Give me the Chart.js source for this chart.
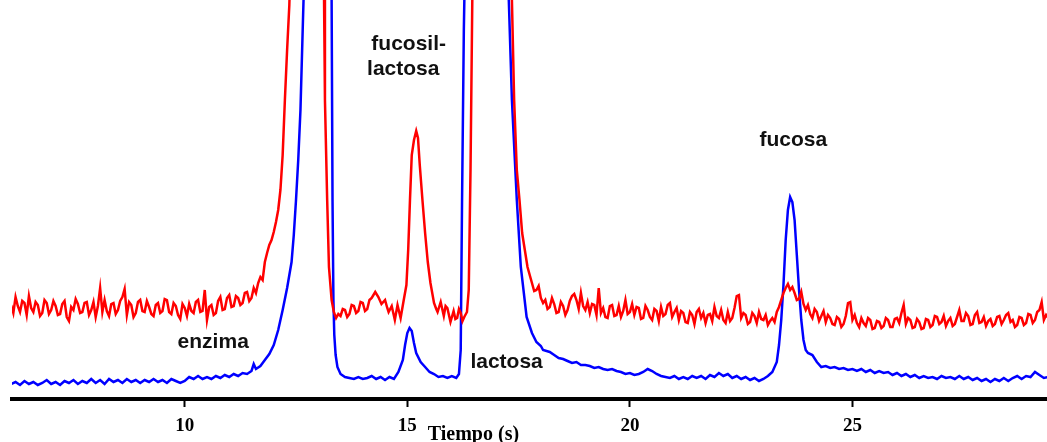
<!DOCTYPE html>
<html>
<head>
<meta charset="utf-8">
<script src="https://cdn.jsdelivr.net/npm/chart.js@4.4.1/dist/chart.umd.min.js"></script>
<style>
  html, body { margin: 0; padding: 0; background: #fff; }
  canvas { display: block; }
</style>
</head>
<body>
<canvas id="chart" width="1047" height="442"></canvas>
<script>
// time (s), detector signal (arbitrary units); big peaks run off the top
const redTrace = [
  [6.1, 96], [6.15, 88], [6.2, 104], [6.25, 95], [6.3, 89], [6.35, 100], [6.4, 98], [6.45, 86], [6.5, 105], [6.55, 93],
  [6.6, 89], [6.65, 99], [6.7, 96], [6.75, 85], [6.8, 88], [6.85, 101], [6.9, 98], [6.95, 87], [7.0, 91], [7.05, 100],
  [7.1, 95], [7.15, 86], [7.2, 87], [7.25, 97], [7.3, 100], [7.35, 84], [7.4, 80], [7.45, 94], [7.5, 91], [7.55, 102],
  [7.6, 97], [7.65, 88], [7.7, 89], [7.75, 98], [7.8, 99], [7.85, 86], [7.9, 91], [7.95, 99], [8.0, 84], [8.05, 95],
  [8.1, 113], [8.15, 89], [8.2, 101], [8.25, 90], [8.3, 85], [8.35, 97], [8.4, 98], [8.45, 87], [8.5, 91], [8.55, 100],
  [8.6, 104], [8.65, 112], [8.7, 86], [8.75, 99], [8.8, 96], [8.85, 84], [8.9, 88], [8.95, 99], [9.0, 101], [9.05, 90],
  [9.1, 89], [9.15, 100], [9.2, 94], [9.25, 87], [9.3, 85], [9.35, 96], [9.4, 98], [9.45, 88], [9.5, 90], [9.55, 102],
  [9.6, 101], [9.65, 89], [9.7, 87], [9.75, 98], [9.8, 95], [9.85, 86], [9.9, 82], [9.95, 97], [10.0, 93], [10.05, 85],
  [10.1, 97], [10.15, 90], [10.2, 88], [10.25, 99], [10.3, 101], [10.35, 89], [10.4, 90], [10.45, 111], [10.5, 81], [10.55, 94],
  [10.6, 96], [10.65, 86], [10.7, 88], [10.75, 100], [10.8, 104], [10.85, 91], [10.9, 92], [10.95, 103], [11.0, 106], [11.05, 94],
  [11.1, 95], [11.15, 105], [11.2, 103], [11.25, 96], [11.3, 98], [11.35, 108], [11.4, 109], [11.45, 100], [11.5, 103], [11.55, 113],
  [11.6, 108], [11.65, 118], [11.7, 124], [11.75, 121], [11.8, 139], [11.85, 148], [11.9, 156], [11.95, 161], [12.0, 169], [12.05, 179],
  [12.1, 191], [12.15, 211], [12.2, 246], [12.25, 301], [12.3, 351], [12.35, 396], [12.4, 480], [12.5, 700], [12.9, 700], [13.08, 600],
  [13.13, 401], [13.15, 301], [13.2, 201], [13.24, 134], [13.3, 101], [13.35, 89], [13.4, 83],
  [13.45, 87], [13.5, 85], [13.55, 92], [13.6, 91], [13.65, 84], [13.7, 87], [13.75, 96], [13.8, 95], [13.85, 88], [13.9, 90],
  [13.95, 99], [14.0, 98], [14.05, 90], [14.1, 92], [14.15, 101], [14.2, 103], [14.28, 109], [14.35, 104], [14.42, 97], [14.5, 101],
  [14.55, 93], [14.58, 89], [14.65, 95], [14.72, 81], [14.78, 96], [14.85, 83], [14.92, 101], [14.98, 116], [15.02, 151], [15.06, 201],
  [15.1, 246], [15.15, 261], [15.2, 270], [15.24, 263], [15.28, 236], [15.34, 201], [15.4, 168], [15.46, 139], [15.52, 118], [15.6, 98],
  [15.65, 92], [15.68, 89], [15.75, 99], [15.82, 85], [15.86, 95], [15.9, 93], [15.97, 79], [16.04, 90], [16.08, 82], [16.12, 83],
  [16.16, 92], [16.2, 88], [16.24, 80], [16.28, 84], [16.34, 89], [16.38, 111], [16.42, 231], [16.46, 401], [16.5, 600], [16.8, 800],
  [17.2, 800], [17.3, 600], [17.35, 401], [17.4, 301], [17.46, 231], [17.52, 201], [17.58, 168], [17.64, 151], [17.7, 134], [17.8, 118],
  [17.85, 110], [17.9, 111], [17.95, 115], [18.0, 103], [18.05, 98], [18.1, 101], [18.15, 92], [18.2, 94], [18.25, 103], [18.3, 97],
  [18.35, 88], [18.4, 89], [18.45, 99], [18.5, 95], [18.55, 86], [18.6, 91], [18.65, 100], [18.7, 105], [18.75, 107], [18.8, 101],
  [18.85, 92], [18.9, 108], [18.95, 95], [19.0, 91], [19.05, 99], [19.1, 88], [19.15, 97], [19.2, 96], [19.25, 86], [19.3, 113],
  [19.35, 88], [19.4, 93], [19.45, 84], [19.5, 83], [19.55, 95], [19.6, 96], [19.65, 85], [19.7, 86], [19.75, 95], [19.8, 84],
  [19.85, 90], [19.9, 101], [19.95, 87], [20.0, 89], [20.05, 97], [20.1, 86], [20.15, 94], [20.2, 93], [20.25, 82], [20.3, 83],
  [20.35, 95], [20.4, 91], [20.45, 84], [20.5, 81], [20.55, 92], [20.6, 90], [20.65, 80], [20.7, 94], [20.75, 85], [20.8, 87],
  [20.85, 96], [20.9, 98], [20.95, 84], [21.0, 89], [21.05, 93], [21.1, 81], [21.15, 90], [21.2, 88], [21.25, 79], [21.3, 78],
  [21.35, 89], [21.4, 86], [21.45, 77], [21.5, 89], [21.55, 92], [21.6, 83], [21.65, 88], [21.7, 78], [21.75, 86], [21.8, 87],
  [21.85, 80], [21.9, 94], [21.95, 85], [22.0, 83], [22.05, 91], [22.1, 81], [22.15, 78], [22.2, 89], [22.25, 80], [22.3, 83],
  [22.35, 93], [22.4, 105], [22.45, 106], [22.5, 83], [22.55, 88], [22.6, 86], [22.65, 77], [22.7, 79], [22.75, 88], [22.8, 85],
  [22.85, 78], [22.9, 89], [22.95, 82], [23.0, 81], [23.05, 86], [23.1, 76], [23.15, 80], [23.2, 83], [23.25, 79], [23.3, 89],
  [23.35, 94], [23.4, 101], [23.45, 108], [23.5, 113], [23.55, 117], [23.6, 111], [23.65, 114], [23.7, 108], [23.75, 101], [23.8, 102],
  [23.85, 109], [23.9, 97], [23.95, 91], [24.0, 96], [24.05, 87], [24.1, 83], [24.15, 92], [24.2, 89], [24.25, 80], [24.3, 85],
  [24.35, 90], [24.4, 79], [24.45, 86], [24.5, 83], [24.55, 77], [24.6, 76], [24.65, 84], [24.7, 82], [24.75, 74], [24.8, 77],
  [24.85, 85], [24.9, 98], [24.95, 99], [25.0, 81], [25.05, 86], [25.1, 78], [25.15, 74], [25.2, 83], [25.25, 78], [25.3, 75],
  [25.35, 83], [25.4, 81], [25.45, 72], [25.5, 73], [25.55, 80], [25.6, 79], [25.65, 73], [25.7, 75], [25.75, 83], [25.8, 81],
  [25.85, 74], [25.9, 74], [25.95, 82], [26.0, 83], [26.05, 78], [26.1, 88], [26.15, 96], [26.2, 77], [26.25, 83], [26.3, 81],
  [26.35, 73], [26.4, 74], [26.45, 82], [26.5, 79], [26.55, 72], [26.6, 73], [26.65, 82], [26.7, 81], [26.75, 74], [26.8, 76],
  [26.85, 85], [26.9, 84], [26.95, 77], [27.0, 79], [27.05, 85], [27.1, 75], [27.15, 80], [27.2, 83], [27.25, 75], [27.3, 77],
  [27.35, 84], [27.4, 91], [27.45, 80], [27.5, 80], [27.55, 88], [27.6, 85], [27.65, 76], [27.7, 77], [27.75, 86], [27.8, 89],
  [27.85, 78], [27.9, 79], [27.95, 84], [28.0, 75], [28.05, 80], [28.1, 82], [28.15, 75], [28.2, 77], [28.25, 84], [28.3, 85],
  [28.35, 77], [28.4, 81], [28.45, 86], [28.5, 88], [28.55, 79], [28.6, 81], [28.65, 74], [28.7, 76], [28.75, 84], [28.8, 83],
  [28.85, 76], [28.9, 78], [28.95, 87], [29.0, 86], [29.05, 78], [29.1, 81], [29.15, 89], [29.2, 91], [29.25, 99], [29.3, 81],
  [29.35, 86], [29.4, 83]
];

const blueTrace = [
  [6.1, 17], [6.2, 19], [6.3, 16], [6.4, 20], [6.5, 17], [6.6, 19], [6.7, 16], [6.8, 18], [6.9, 21], [7.0, 17],
  [7.1, 19], [7.2, 16], [7.3, 20], [7.4, 18], [7.5, 21], [7.6, 17], [7.7, 20], [7.8, 18], [7.9, 22], [8.0, 18],
  [8.1, 21], [8.2, 17], [8.3, 22], [8.4, 19], [8.5, 21], [8.6, 18], [8.7, 22], [8.8, 19], [8.9, 21], [9.0, 18],
  [9.1, 21], [9.2, 19], [9.3, 22], [9.4, 19], [9.5, 21], [9.6, 18], [9.7, 22], [9.8, 20], [9.9, 18], [10.0, 20],
  [10.1, 24], [10.2, 22], [10.3, 25], [10.4, 22], [10.5, 24], [10.6, 22], [10.7, 25], [10.8, 23], [10.9, 26], [11.0, 24],
  [11.1, 27], [11.2, 25], [11.3, 28], [11.4, 27], [11.5, 30], [11.55, 37], [11.6, 32], [11.7, 35], [11.8, 41], [11.9, 47],
  [12.0, 56], [12.1, 71], [12.2, 91], [12.3, 113], [12.4, 139], [12.45, 166], [12.5, 201], [12.55, 241], [12.6, 291], [12.65, 371],
  [12.7, 450], [12.9, 800], [13.2, 800], [13.27, 520], [13.3, 401], [13.32, 201], [13.34, 101], [13.36, 66], [13.39, 46], [13.43, 34],
  [13.5, 27], [13.6, 24], [13.7, 23], [13.8, 22], [13.9, 24], [14.0, 22], [14.1, 23], [14.2, 25], [14.3, 22], [14.4, 24],
  [14.5, 21], [14.6, 24], [14.7, 22], [14.8, 29], [14.9, 41], [14.95, 56], [15.0, 68], [15.05, 73], [15.1, 70], [15.15, 58],
  [15.2, 48], [15.3, 39], [15.4, 34], [15.5, 29], [15.6, 27], [15.7, 24], [15.8, 25], [15.9, 23], [16.0, 25], [16.1, 23],
  [16.16, 27], [16.2, 51], [16.23, 201], [16.27, 371], [16.3, 450], [16.6, 800], [17.1, 800], [17.25, 450], [17.28, 401], [17.35, 301],
  [17.46, 201], [17.55, 134], [17.68, 84], [17.8, 68], [17.9, 59], [18.0, 55], [18.05, 51], [18.2, 49], [18.3, 46], [18.4, 43],
  [18.5, 42], [18.6, 40], [18.7, 38], [18.8, 39], [18.9, 36], [19.0, 36], [19.1, 35], [19.2, 33], [19.3, 34], [19.4, 32],
  [19.5, 31], [19.6, 32], [19.7, 30], [19.8, 29], [19.9, 27], [20.0, 28], [20.1, 26], [20.2, 27], [20.3, 29], [20.4, 32],
  [20.5, 30], [20.6, 27], [20.7, 25], [20.8, 24], [20.9, 23], [21.0, 25], [21.1, 22], [21.2, 24], [21.3, 22], [21.4, 25],
  [21.5, 23], [21.6, 25], [21.7, 22], [21.8, 26], [21.9, 24], [22.0, 28], [22.1, 25], [22.2, 27], [22.3, 23], [22.4, 25],
  [22.5, 22], [22.6, 24], [22.7, 21], [22.8, 23], [22.9, 20], [23.0, 22], [23.1, 25], [23.2, 29], [23.3, 39], [23.35, 56],
  [23.4, 81], [23.45, 116], [23.5, 161], [23.55, 191], [23.6, 204], [23.65, 199], [23.7, 181], [23.75, 146], [23.8, 111], [23.85, 81],
  [23.9, 61], [23.95, 51], [24.0, 48], [24.1, 46], [24.2, 39], [24.3, 34], [24.4, 35], [24.5, 33], [24.6, 34], [24.7, 32],
  [24.8, 33], [24.9, 31], [25.0, 32], [25.1, 30], [25.2, 32], [25.3, 29], [25.4, 31], [25.5, 28], [25.6, 30], [25.7, 28],
  [25.8, 29], [25.9, 26], [26.0, 28], [26.1, 25], [26.2, 27], [26.3, 24], [26.4, 26], [26.5, 23], [26.6, 25], [26.7, 23],
  [26.8, 24], [26.9, 22], [27.0, 25], [27.1, 23], [27.2, 24], [27.3, 22], [27.4, 25], [27.5, 22], [27.6, 24], [27.7, 21],
  [27.8, 23], [27.9, 20], [28.0, 22], [28.1, 19], [28.2, 22], [28.3, 20], [28.4, 23], [28.5, 20], [28.6, 23], [28.7, 25],
  [28.8, 22], [28.9, 25], [29.0, 24], [29.1, 29], [29.2, 26], [29.3, 23], [29.4, 24]
];

const tickValues = [10, 15, 20, 25];
const xRange = [6.12, 29.37];
const yRange = [2, 401];

const toPoints = (trace) => trace.map(([x, y]) => ({ x, y }));

// peak names, anchored in data coordinates (centre x, text baseline)
const peakNotes = [
  { text: "fucosil-", t: 15.03, s: 351 },
  { text: "lactosa", t: 14.91, s: 326 },
  { text: "fucosa", t: 23.67, s: 255 },
  { text: "enzima", t: 10.64, s: 53 },
  { text: "lactosa", t: 17.23, s: 33 }
];

const notesPlugin = {
  id: "notes",
  afterDatasetsDraw(chart) {
    const { ctx, scales: { x, y }, chartArea } = chart;
    ctx.save();
    ctx.fillStyle = "#111";
    ctx.font = "bold 21px 'Liberation Sans', Arial, sans-serif";
    ctx.textAlign = "center";
    ctx.textBaseline = "alphabetic";
    peakNotes.forEach(n => ctx.fillText(n.text, x.getPixelForValue(n.t), y.getPixelForValue(n.s)));

    // axis title sits just right of the "15" tick
    ctx.fillStyle = "#000";
    ctx.font = "bold 20px 'Liberation Serif', 'Times New Roman', serif";
    ctx.textAlign = "left";
    ctx.fillText("Tiempo (s)", x.getPixelForValue(15.46), chartArea.bottom + 41);
    ctx.restore();
  }
};

new Chart(document.getElementById("chart"), {
  type: "line",
  data: {
    datasets: [
      {
        label: "control",
        data: toPoints(redTrace),
        borderColor: "#ff0000",
        borderWidth: 2.5,
        pointRadius: 0,
        tension: 0
      },
      {
        label: "muestra",
        data: toPoints(blueTrace),
        borderColor: "#0000ff",
        borderWidth: 2.5,
        pointRadius: 0,
        tension: 0
      }
    ]
  },
  options: {
    responsive: false,
    animation: false,
    devicePixelRatio: 1,
    layout: { padding: { left: 12, right: 0, top: 0, bottom: 0 } },
    plugins: {
      legend: { display: false },
      tooltip: { enabled: false }
    },
    scales: {
      x: {
        type: "linear",
        min: xRange[0],
        max: xRange[1],
        afterBuildTicks: (axis) => {
          axis.ticks = tickValues.map(value => ({ value }));
        },
        afterFit: (axis) => { axis.height = 43; },
        grid: {
          drawOnChartArea: false,
          drawTicks: true,
          tickLength: 8,
          tickColor: "#000",
          tickWidth: 2
        },
        border: { display: true, color: "#000", width: 4 },
        ticks: {
          color: "#000",
          padding: 8,
          maxRotation: 0,
          font: { family: "'Liberation Serif', 'Times New Roman', serif", weight: "bold", size: 19 }
        }
      },
      y: {
        display: false,
        min: yRange[0],
        max: yRange[1]
      }
    }
  },
  plugins: [notesPlugin]
});
</script>
</body>
</html>
